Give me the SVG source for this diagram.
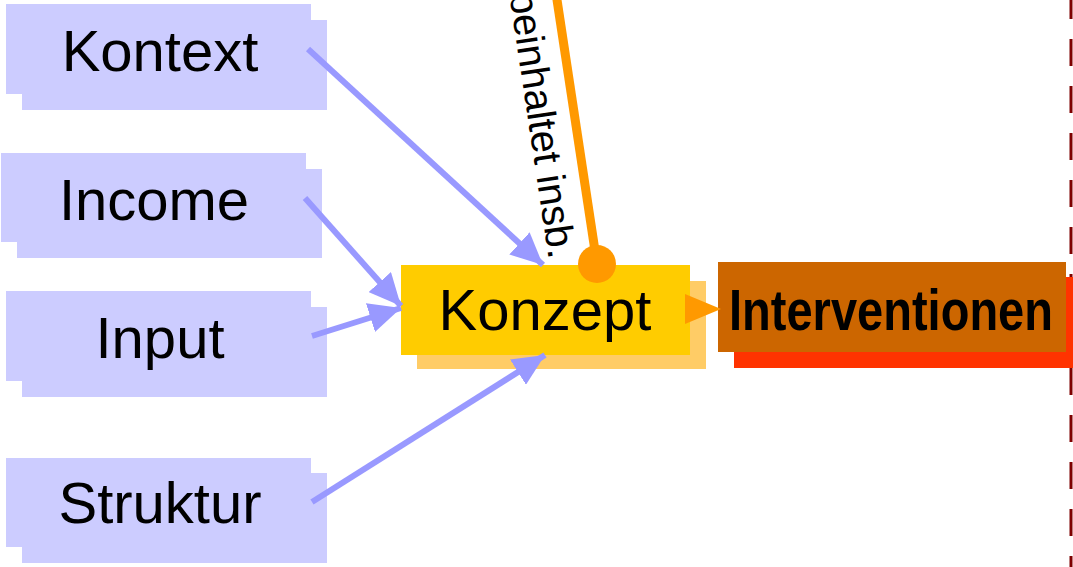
<svg xmlns="http://www.w3.org/2000/svg" width="1073" height="567" viewBox="0 0 1073 567">
<style>
.lbl{font-family:"Liberation Sans",Arial,sans-serif;font-size:58px;fill:#000;text-anchor:middle}
.bold{font-weight:bold}
.blue{fill:#CCCCFF}
.blueArrow{stroke:#9999FF;stroke-width:6;fill:none;marker-end:url(#bh)}
.edgeLbl{font-family:"Liberation Sans",Arial,sans-serif;font-size:40px;fill:#000;text-anchor:end}
</style>
<defs>
<marker id="bh" markerUnits="userSpaceOnUse" markerWidth="32" markerHeight="30" refX="32" refY="15" orient="auto" viewBox="0 0 32 30">
<path d="M0,0 L32,15 L0,30 z" fill="#9999FF"/>
</marker>
<marker id="oh" markerUnits="userSpaceOnUse" markerWidth="36" markerHeight="30" refX="36" refY="15" orient="auto" viewBox="0 0 36 30">
<path d="M0,0 L36,15 L0,30 z" fill="#FF9900"/>
</marker>
</defs>
<rect width="1073" height="567" fill="#fff"/>
<g id="divider">
<line x1="1071" y1="0" x2="1071" y2="567" stroke="#7F0000" stroke-width="3" stroke-dasharray="27 20" stroke-dashoffset="8"/>
</g>
<g id="kontext">
<rect class="blue" x="22" y="20" width="305" height="90"/>
<rect class="blue" x="6" y="4" width="305" height="90"/>
<text class="lbl" x="160" y="71">Kontext</text>
</g>
<g id="income">
<rect class="blue" x="17" y="169" width="305" height="89"/>
<rect class="blue" x="1" y="153" width="305" height="89"/>
<text class="lbl" x="154" y="220">Income</text>
</g>
<g id="input">
<rect class="blue" x="22" y="307" width="305" height="90"/>
<rect class="blue" x="6" y="291" width="305" height="90"/>
<text class="lbl" x="160" y="358">Input</text>
</g>
<g id="struktur">
<rect class="blue" x="22" y="473" width="305" height="90"/>
<rect class="blue" x="6" y="458" width="305" height="89"/>
<text class="lbl" x="160" y="523">Struktur</text>
</g>
<g id="konzept">
<rect x="417" y="281" width="289" height="88" fill="#FFCC66"/>
<rect x="401" y="265" width="289" height="90" fill="#FFCC00"/>
<text class="lbl" x="545" y="330">Konzept</text>
</g>
<g id="interventionen">
<rect x="734" y="277" width="345" height="91" fill="#FF3300"/>
<rect x="718" y="262" width="348" height="90" fill="#CC6600"/>
<text class="lbl bold" x="891" y="330" textLength="324" lengthAdjust="spacingAndGlyphs">Interventionen</text>
</g>
<g id="connectors">
<line class="blueArrow" x1="308" y1="49" x2="543" y2="265"/>
<line class="blueArrow" x1="305" y1="198" x2="401" y2="306"/>
<line class="blueArrow" x1="312" y1="336" x2="401" y2="308"/>
<line class="blueArrow" x1="312" y1="502" x2="545" y2="355"/>
<line x1="554" y1="-20" x2="597" y2="264" stroke="#FF9900" stroke-width="9"/>
<circle cx="597" cy="264" r="19" fill="#FF9900"/>
<text class="edgeLbl" transform="translate(549 260) rotate(81.5)">beinhaltet insb.</text>
<line x1="684" y1="309" x2="721" y2="309" stroke="#FF9900" stroke-width="0" marker-end="url(#oh)"/>
</g>
</svg>
